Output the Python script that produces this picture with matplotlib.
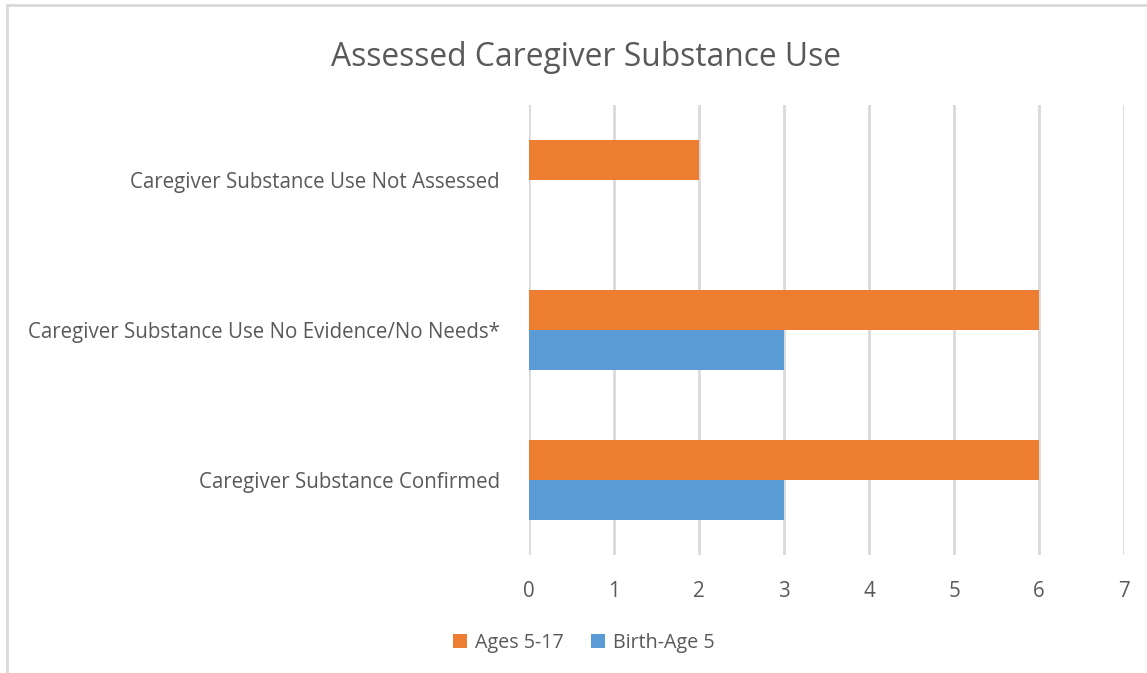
import matplotlib
matplotlib.use("Agg")
import matplotlib.pyplot as plt
import numpy as np
from matplotlib.patches import Rectangle

# data (bottom to top)
categories = ["Caregiver Substance Confirmed",
              "Caregiver Substance Use No Evidence/No Needs*",
              "Caregiver Substance Use Not Assessed"]
ages_5_17 = [6, 6, 2]
birth_age_5 = [3, 3, 0]
x_ticks = [0, 1, 2, 3, 4, 5, 6, 7]

orange = "#ED7D31"
blue = "#5B9BD5"
txt = "#595959"

plt.rcParams['font.family'] = ['Open Sans', 'DejaVu Sans']

fig = plt.figure(figsize=(11.47, 6.73), dpi=100)
ax = fig.add_axes([529/1147, 1 - 555/673, (1124 - 529)/1147, (555 - 105)/673])

# chart border
fig.patches.append(Rectangle((7/1147, -0.01), 1.02, 1 - 5/673 + 0.01, transform=fig.transFigure,
                             fill=False, edgecolor="#D9D9D9", linewidth=2))

y = np.arange(len(categories))
h = 40 / 150
ax.barh(y + h/2, ages_5_17, height=h, color=orange, label="Ages 5-17", zorder=3)
ax.barh(y - h/2, birth_age_5, height=h, color=blue, label="Birth-Age 5", zorder=3)

ax.set_xlim(0, 7)
ax.set_ylim(-0.5, 2.5)
ax.set_xticks(x_ticks)
ax.set_yticks(y)
ax.set_yticklabels(categories)
ax.tick_params(axis='both', length=0, labelsize=14.8, colors=txt)
ax.tick_params(axis='x', pad=19)
ax.tick_params(axis='y', pad=21)
ax.grid(axis='x', color="#D9D9D9", linewidth=2, zorder=0)
for s in ax.spines.values():
    s.set_visible(False)

fig.text(586/1147, 1 - 58/673, "Assessed Caregiver Substance Use", ha='center', va='center',
         fontsize=22.9, color=txt)

fig.legend(loc='center', bbox_to_anchor=(584/1147, 1 - 643/673), ncol=2, frameon=False,
           fontsize=14.2, labelcolor=txt, handlelength=0.7, handleheight=0.7,
           handletextpad=0.4, columnspacing=1.4)

fig.savefig("out.png", dpi=100)
